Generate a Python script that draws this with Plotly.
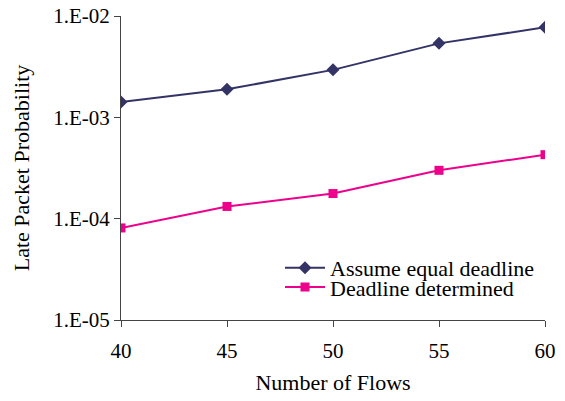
import plotly.graph_objects as go

flows = [40, 45, 50, 55, 60]
equal_deadline = [1.42e-3, 1.89e-3, 2.94e-3, 5.37e-3, 7.73e-3]
deadline_determined = [8.1e-5, 1.32e-4, 1.77e-4, 3.0e-4, 4.28e-4]
y_tick_vals = [1e-5, 1e-4, 1e-3, 1e-2]
y_tick_text = ["1.E-05", "1.E-04", "1.E-03", "1.E-02"]
x_tick_vals = [40, 45, 50, 55, 60]

navy = "#333366"
magenta = "#EC008C"
font = "Liberation Serif"

fig = go.Figure()
fig.add_trace(go.Scatter(x=flows, y=equal_deadline, mode="lines+markers",
                         name="Assume equal deadline", legend="legend",
                         line=dict(color=navy, width=2),
                         marker=dict(symbol="diamond", size=10, color=navy)))
fig.add_trace(go.Scatter(x=flows, y=deadline_determined, mode="lines+markers",
                         name="Deadline determined", legend="legend2",
                         line=dict(color=magenta, width=2),
                         marker=dict(symbol="square", size=9, color=magenta)))

leg_common = dict(xanchor="left", yanchor="middle", bgcolor="rgba(0,0,0,0)",
                  font=dict(family=font, size=22), itemwidth=40)

fig.update_layout(
    width=565, height=401,
    margin=dict(l=121, r=20, t=16, b=81, autoexpand=False),
    paper_bgcolor="white", plot_bgcolor="white",
    font=dict(family=font, size=22, color="black"),
    showlegend=True,
    legend=dict(x=0.375, y=0.171, **leg_common),
    legend2=dict(x=0.375, y=0.108, **leg_common),
    xaxis=dict(range=[40, 60], tickvals=x_tick_vals, showgrid=False,
               zeroline=False, showline=True, linecolor="#444444", linewidth=1,
               ticks="outside", ticklen=6, tickcolor="#444444",
               tickfont=dict(family=font, size=21), ticklabelstandoff=6,
               automargin=False,
               title=dict(text="Number of Flows", standoff=12,
                          font=dict(family=font, size=22))),
    yaxis=dict(type="log", range=[-5, -2], tickvals=y_tick_vals,
               ticktext=y_tick_text, showgrid=False, zeroline=False,
               showline=True, linecolor="#444444", linewidth=1,
               ticks="outside", ticklen=6, tickcolor="#444444",
               tickfont=dict(family=font, size=21), automargin=False,
               title=dict(text="Late Packet Probability", standoff=17,
                          font=dict(family=font, size=22))),
)

fig.write_html("out.html")
